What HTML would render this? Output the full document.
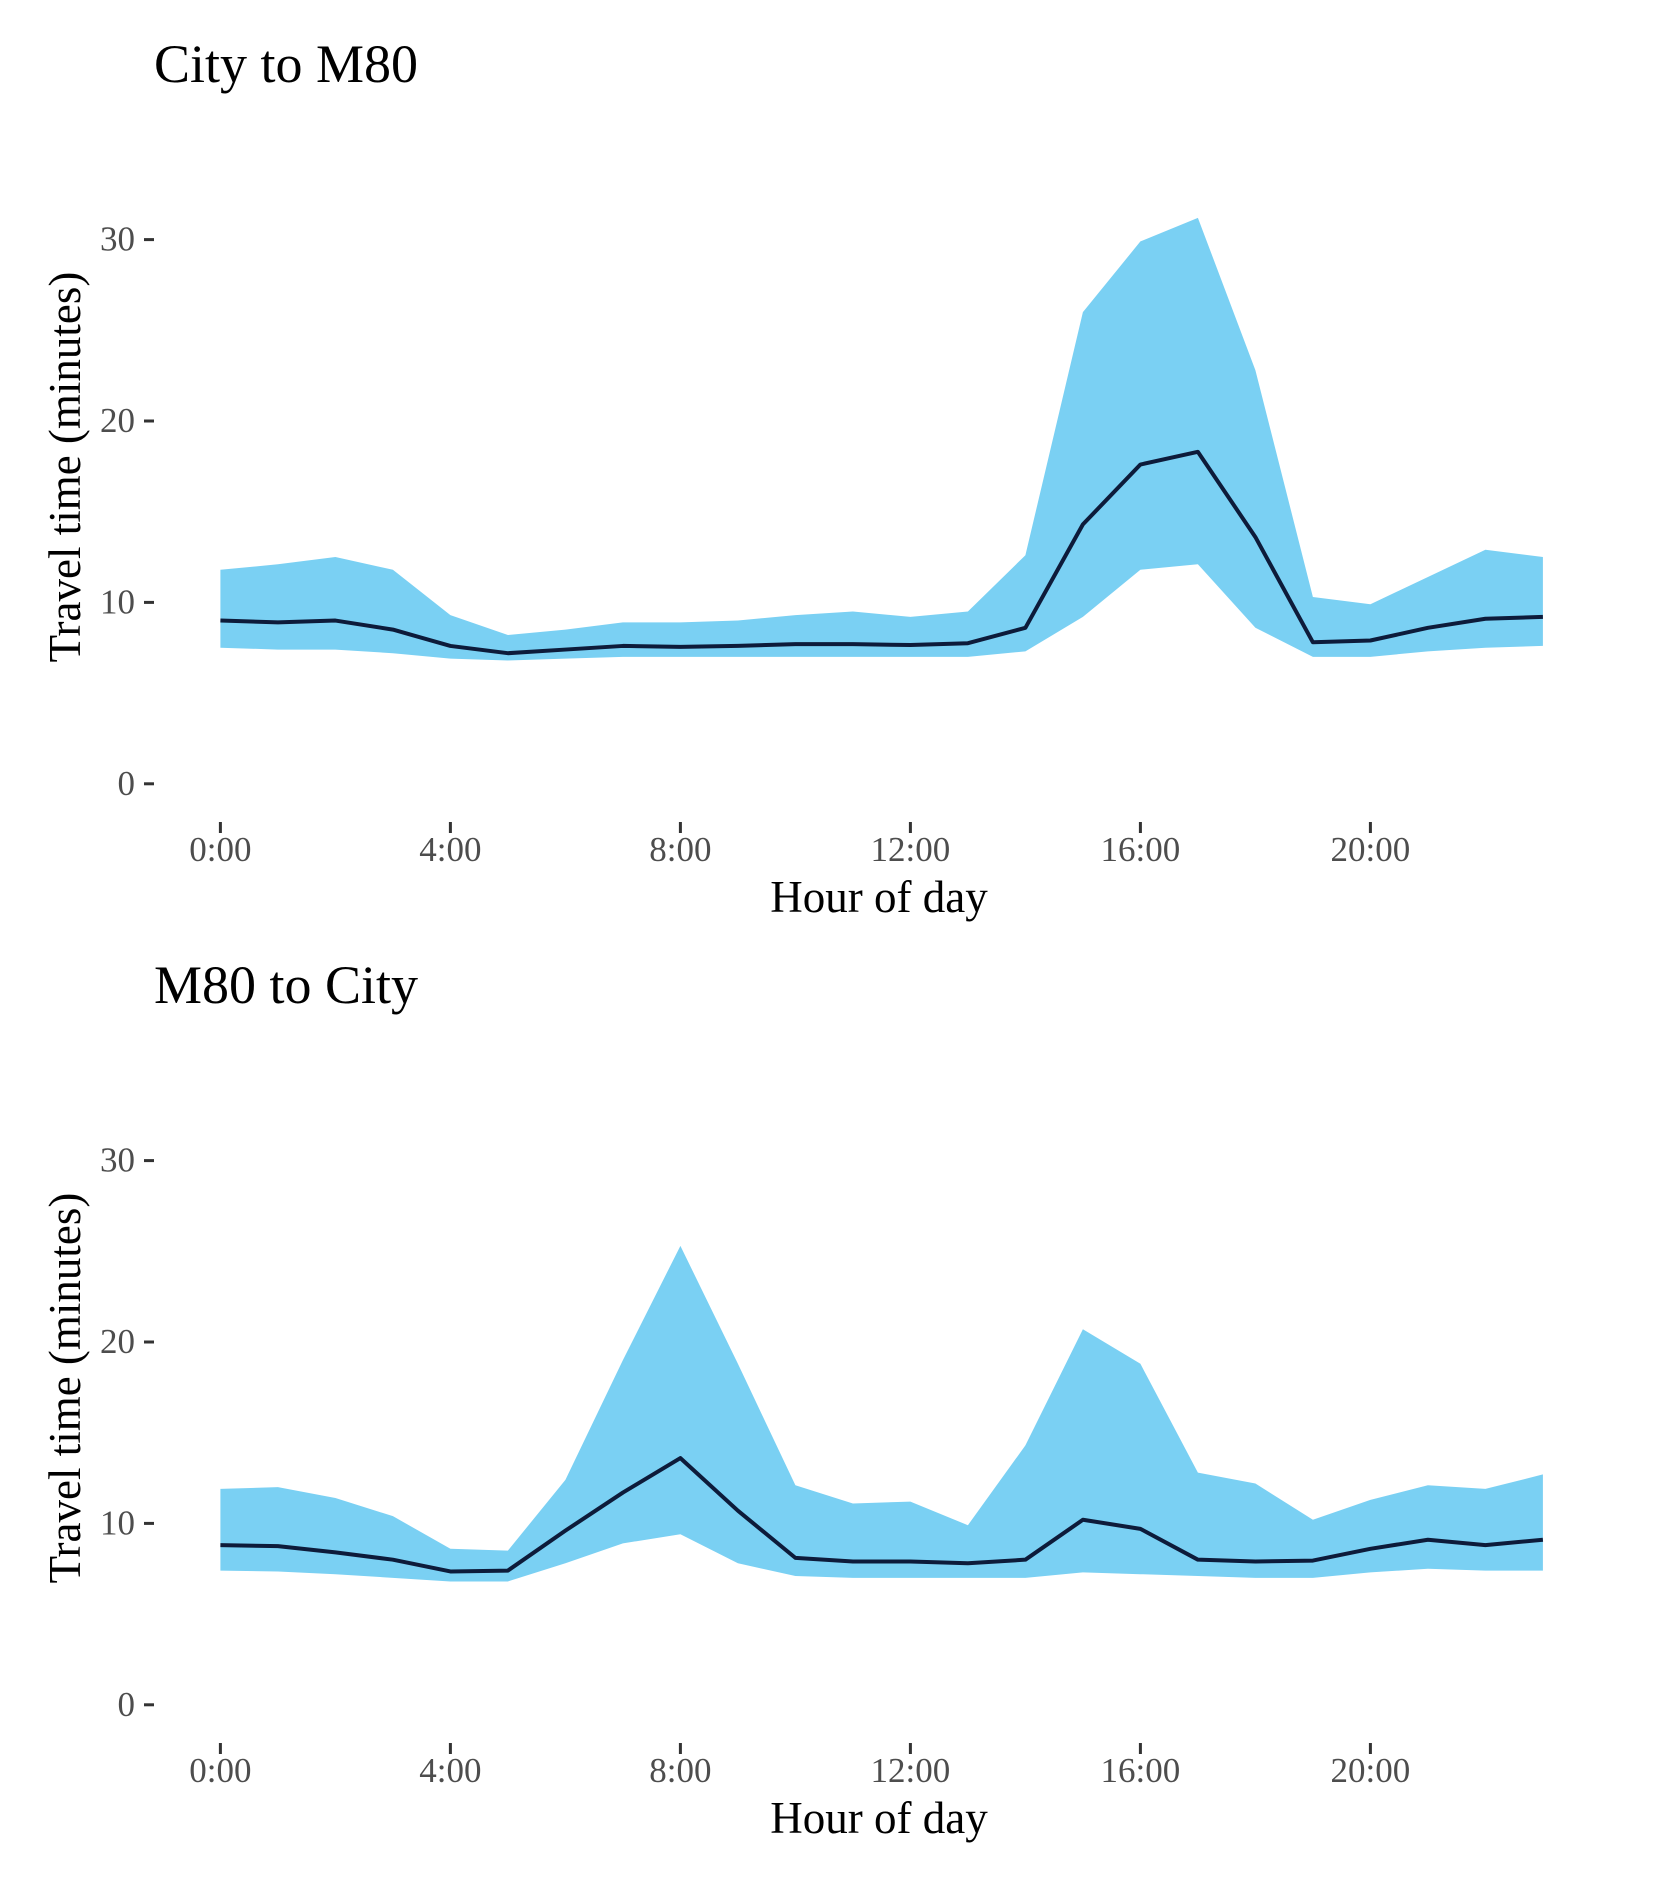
<!DOCTYPE html>
<html><head><meta charset="utf-8"><style>
html,body{margin:0;padding:0;background:#fff;}
svg{display:block;font-family:"Liberation Serif",serif;}
</style></head><body>
<svg id="chart" width="1653" height="1889" viewBox="0 0 1653 1889" xmlns="http://www.w3.org/2000/svg"></svg>
<script>
const hours = [0,1,2,3,4,5,6,7,8,9,10,11,12,13,14,15,16,17,18,19,20,21,22,23];
const xTickHours = [0,4,8,12,16,20];
const xTickLabels = ["0:00","4:00","8:00","12:00","16:00","20:00"];
const yTicks = [0,10,20,30];
const topTitle = "City to M80";
const topUpper = [11.8,12.1,12.5,11.8,9.3,8.2,8.5,8.9,8.9,9.0,9.3,9.5,9.2,9.5,12.6,26.0,29.9,31.2,22.8,10.3,9.9,11.4,12.9,12.5];
const topMean  = [9.0,8.9,9.0,8.5,7.6,7.2,7.4,7.6,7.55,7.6,7.7,7.7,7.65,7.75,8.6,14.3,17.6,18.3,13.6,7.8,7.9,8.6,9.1,9.2];
const topLower = [7.5,7.4,7.4,7.2,6.9,6.8,6.9,7.0,7.0,7.0,7.0,7.0,7.0,7.0,7.3,9.2,11.8,12.1,8.6,7.0,7.0,7.3,7.5,7.6];
const botTitle = "M80 to City";
const botUpper = [11.9,12.0,11.4,10.4,8.6,8.5,12.4,19.0,25.3,18.8,12.1,11.1,11.2,9.9,14.3,20.7,18.8,12.8,12.2,10.2,11.3,12.1,11.9,12.7];
const botMean  = [8.8,8.75,8.4,8.0,7.35,7.4,9.6,11.7,13.6,10.7,8.1,7.9,7.9,7.8,8.0,10.2,9.7,8.0,7.9,7.95,8.6,9.1,8.8,9.1];
const botLower = [7.4,7.35,7.2,7.0,6.8,6.8,7.8,8.9,9.4,7.8,7.1,7.0,7.0,7.0,7.0,7.3,7.2,7.1,7.0,7.0,7.3,7.5,7.4,7.4];

const NS="http://www.w3.org/2000/svg";
const svg=document.getElementById('chart');
function mk(tag,attrs,parent){const e=document.createElementNS(NS,tag);for(const k in attrs)e.setAttribute(k,attrs[k]);(parent||svg).appendChild(e);return e;}
const xScale=h=>220.4+h*57.5;
function drawPanel(off,title,upper,mean,lower,key){
  const g=mk('g',{});
  
  
  const yScale=v=>783.8+off-(v/30)*544.2;
  const t=mk('text',{x:154,y:82+off,'font-size':54,fill:'#000'},g);t.textContent=title;
  
  
  let d='';hours.forEach((h,i)=>{d+=(i?'L':'M')+xScale(h)+','+yScale(upper[i]);});
  for(let i=hours.length-1;i>=0;i--)d+='L'+xScale(hours[i])+','+yScale(lower[i]);
  const band=mk('path',{d:d+'Z',fill:'#7ad0f3'},g);
  
  
  let dl='';hours.forEach((h,i)=>{dl+=(i?'L':'M')+xScale(h)+','+yScale(mean[i]);});
  const line=mk('path',{d:dl,fill:'none',stroke:'#0d1b3a','stroke-width':4,'stroke-linejoin':'round'},g);
  
  
  yTicks.forEach(v=>{
    const y=yScale(v);
    const tk=mk('line',{x1:144,x2:154,y1:y,y2:y,stroke:'#333','stroke-width':3},g);
    
    
    const tl=mk('text',{x:135,y:y+11,'font-size':35,fill:'#4d4d4d','text-anchor':'end'},g);tl.textContent=v;
    
    
  });
  xTickHours.forEach((h,i)=>{
    const x=xScale(h);
    const tk=mk('line',{x1:x,x2:x,y1:822+off,y2:833+off,stroke:'#333','stroke-width':3},g);
    
    
    const tl=mk('text',{x:x,y:861+off,'font-size':35,fill:'#4d4d4d','text-anchor':'middle'},g);tl.textContent=xTickLabels[i];
    
    
  });
  const xt=mk('text',{x:879,y:912+off,'font-size':45,fill:'#000','text-anchor':'middle'},g);xt.textContent='Hour of day';
  
  
  const yt=mk('text',{x:0,y:0,'font-size':45,fill:'#000','text-anchor':'middle',transform:'translate(80,'+(467+off)+') rotate(-90)'},g);yt.textContent='Travel time (minutes)';
  
  
}
drawPanel(0,topTitle,topUpper,topMean,topLower,'city-to-m80');
drawPanel(921,botTitle,botUpper,botMean,botLower,'m80-to-city');
</script>
</body></html>
